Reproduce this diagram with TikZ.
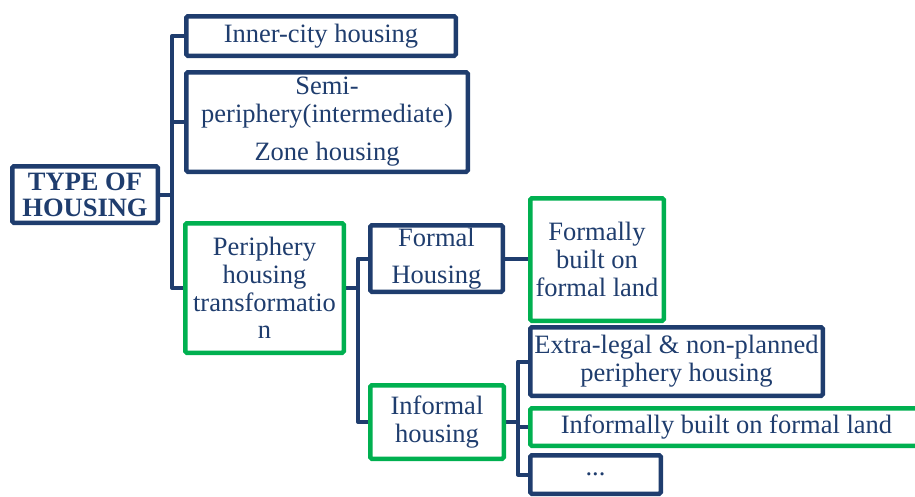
\documentclass[tikz,border=0pt]{standalone}
\usepackage{fontspec}
\setmainfont{Liberation Serif}
\usetikzlibrary{backgrounds}
\definecolor{navy}{HTML}{1F3D6E}
\definecolor{leaf}{HTML}{00B050}
\tikzset{
  box/.style={draw=navy, line width=4.5pt, rounded corners=1.5pt, fill=white,
    inner sep=0pt, align=center, text=navy,
    font=\fontsize{26.5}{27.8}\selectfont},
  greenbox/.style={box, draw=leaf},
  link/.style={draw=navy, line width=4pt, line join=round},
}
\begin{document}
\begin{tikzpicture}[x=1pt, y=-1pt]
\useasboundingbox (0,0) rectangle (915,496);

% trunk positions of the three branching levels
\coordinate (trunkA) at (172,0);
\coordinate (trunkB) at (358,0);
\coordinate (trunkC) at (518,0);

% boxes
\node[box, minimum width=145.5pt, minimum height=56.5pt, font=\bfseries\fontsize{26.5}{26}\selectfont]
  (root) at (85,194.5) {TYPE OF\\HOUSING};
\node[box, minimum width=269.5pt, minimum height=39.5pt] (inner) at (321,36) {Inner-city housing};
\node[box, minimum width=281.5pt, minimum height=99.5pt] (semi) at (327,122)
  {Semi-\\periphery(intermediate)\\[10.5pt]Zone housing};
\node[greenbox, minimum width=158.5pt, minimum height=129.5pt] (periph) at (264.5,288)
  {Periphery\\housing\\transformatio\\n};
\node[box, minimum width=132.5pt, minimum height=66.5pt] (formal) at (436.5,258.5)
  {Formal\\[9.5pt]Housing};
\node[greenbox, minimum width=133.5pt, minimum height=122.5pt] (formally) at (597,259.5)
  {Formally\\built on\\formal land};
\node[greenbox, minimum width=133.5pt, minimum height=73.5pt] (informal) at (437,422)
  {Informal\\housing};
\node[box, minimum width=292.5pt, minimum height=68.5pt] (extra) at (676.5,361.5)
  {Extra-legal \& non-planned\\periphery housing};
\node[greenbox, minimum width=392.5pt, minimum height=37.5pt] (informally) at (726.5,427)
  {Informally built on formal land};
\node[box, minimum width=130.5pt, minimum height=38.5pt] (dots) at (595.5,474.5) {...};

% connectors, beneath the boxes
\begin{scope}[on background layer]
\path[link] (inner.west) -- (inner.west -| trunkA) |- (periph.west);
\path[link] (semi.west) -- (semi.west -| trunkA);
\path[link] (root.east) -- (root.east -| trunkA);

\path[link] (formal.west) -- (formal.west -| trunkB) |- (informal.west);
\path[link] (periph.east) -- (periph.east -| trunkB);

\path[link] (formal.east) -- (formal.east -| formally.west);

\path[link] (extra.west) -- (extra.west -| trunkC) |- (dots.west);
\path[link] (informally.west) -- (informally.west -| trunkC);
\path[link] (informal.east) -- (informal.east -| trunkC);
\end{scope}
\end{tikzpicture}
\end{document}
